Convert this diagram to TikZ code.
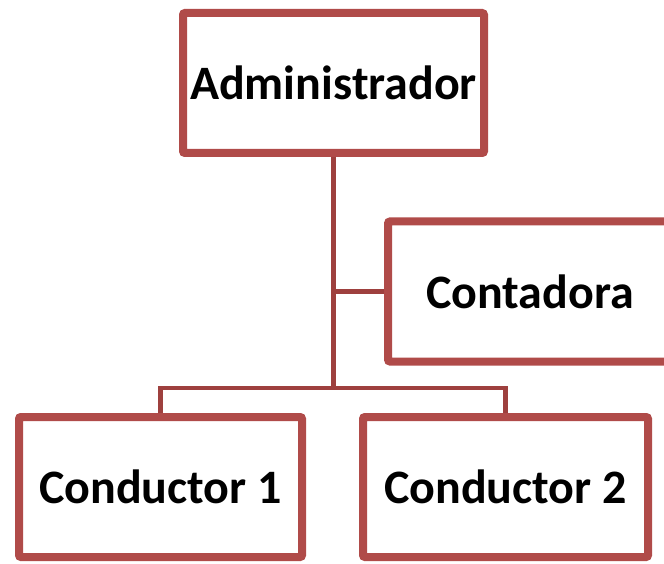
\documentclass[tikz,border=0pt]{standalone}
\usepackage{fontspec}
\setmainfont{Carlito}
\usetikzlibrary{shadows}
\definecolor{bordo}{RGB}{176,75,73}
\definecolor{linea}{RGB}{158,64,62}
\tikzset{
    caja/.style = {draw = bordo, line width = 8pt, fill = white, rounded corners = 2pt,
        inner sep = 0pt, minimum height = 140pt,
        font = \fontsize{48}{57}\selectfont\bfseries,
        drop shadow = {opacity = 0.18, shadow xshift = 2pt, shadow yshift = -3pt}},
    conector/.style = {draw = linea, line width = 4.5pt}
}

\begin{document}
\begin{tikzpicture}[x = 1pt, y = 1pt]
    % area
    \clip (0,0) rectangle (664,563);
    % coordinate
    \coordinate (bus) at (0,175);
    % caselle
    \node[caja, minimum width = 301pt] (admin) at (333.5,480) {Administrador};
    \node[caja, minimum width = 284pt] (conta) at (530,271.5) {Contadora};
    \node[caja, minimum width = 283pt] (cond1) at (160.5,76) {Conductor 1};
    \node[caja, minimum width = 285pt] (cond2) at (505.5,76) {Conductor 2};
    % collegamenti
    \draw[conector] (admin.south) -- (admin.south |- bus);
    \draw[conector] (admin.south |- conta.west) -- (conta.west);
    \draw[conector] (cond1.north) |- (admin.south |- bus) -| (cond2.north);
\end{tikzpicture}
\end{document}
